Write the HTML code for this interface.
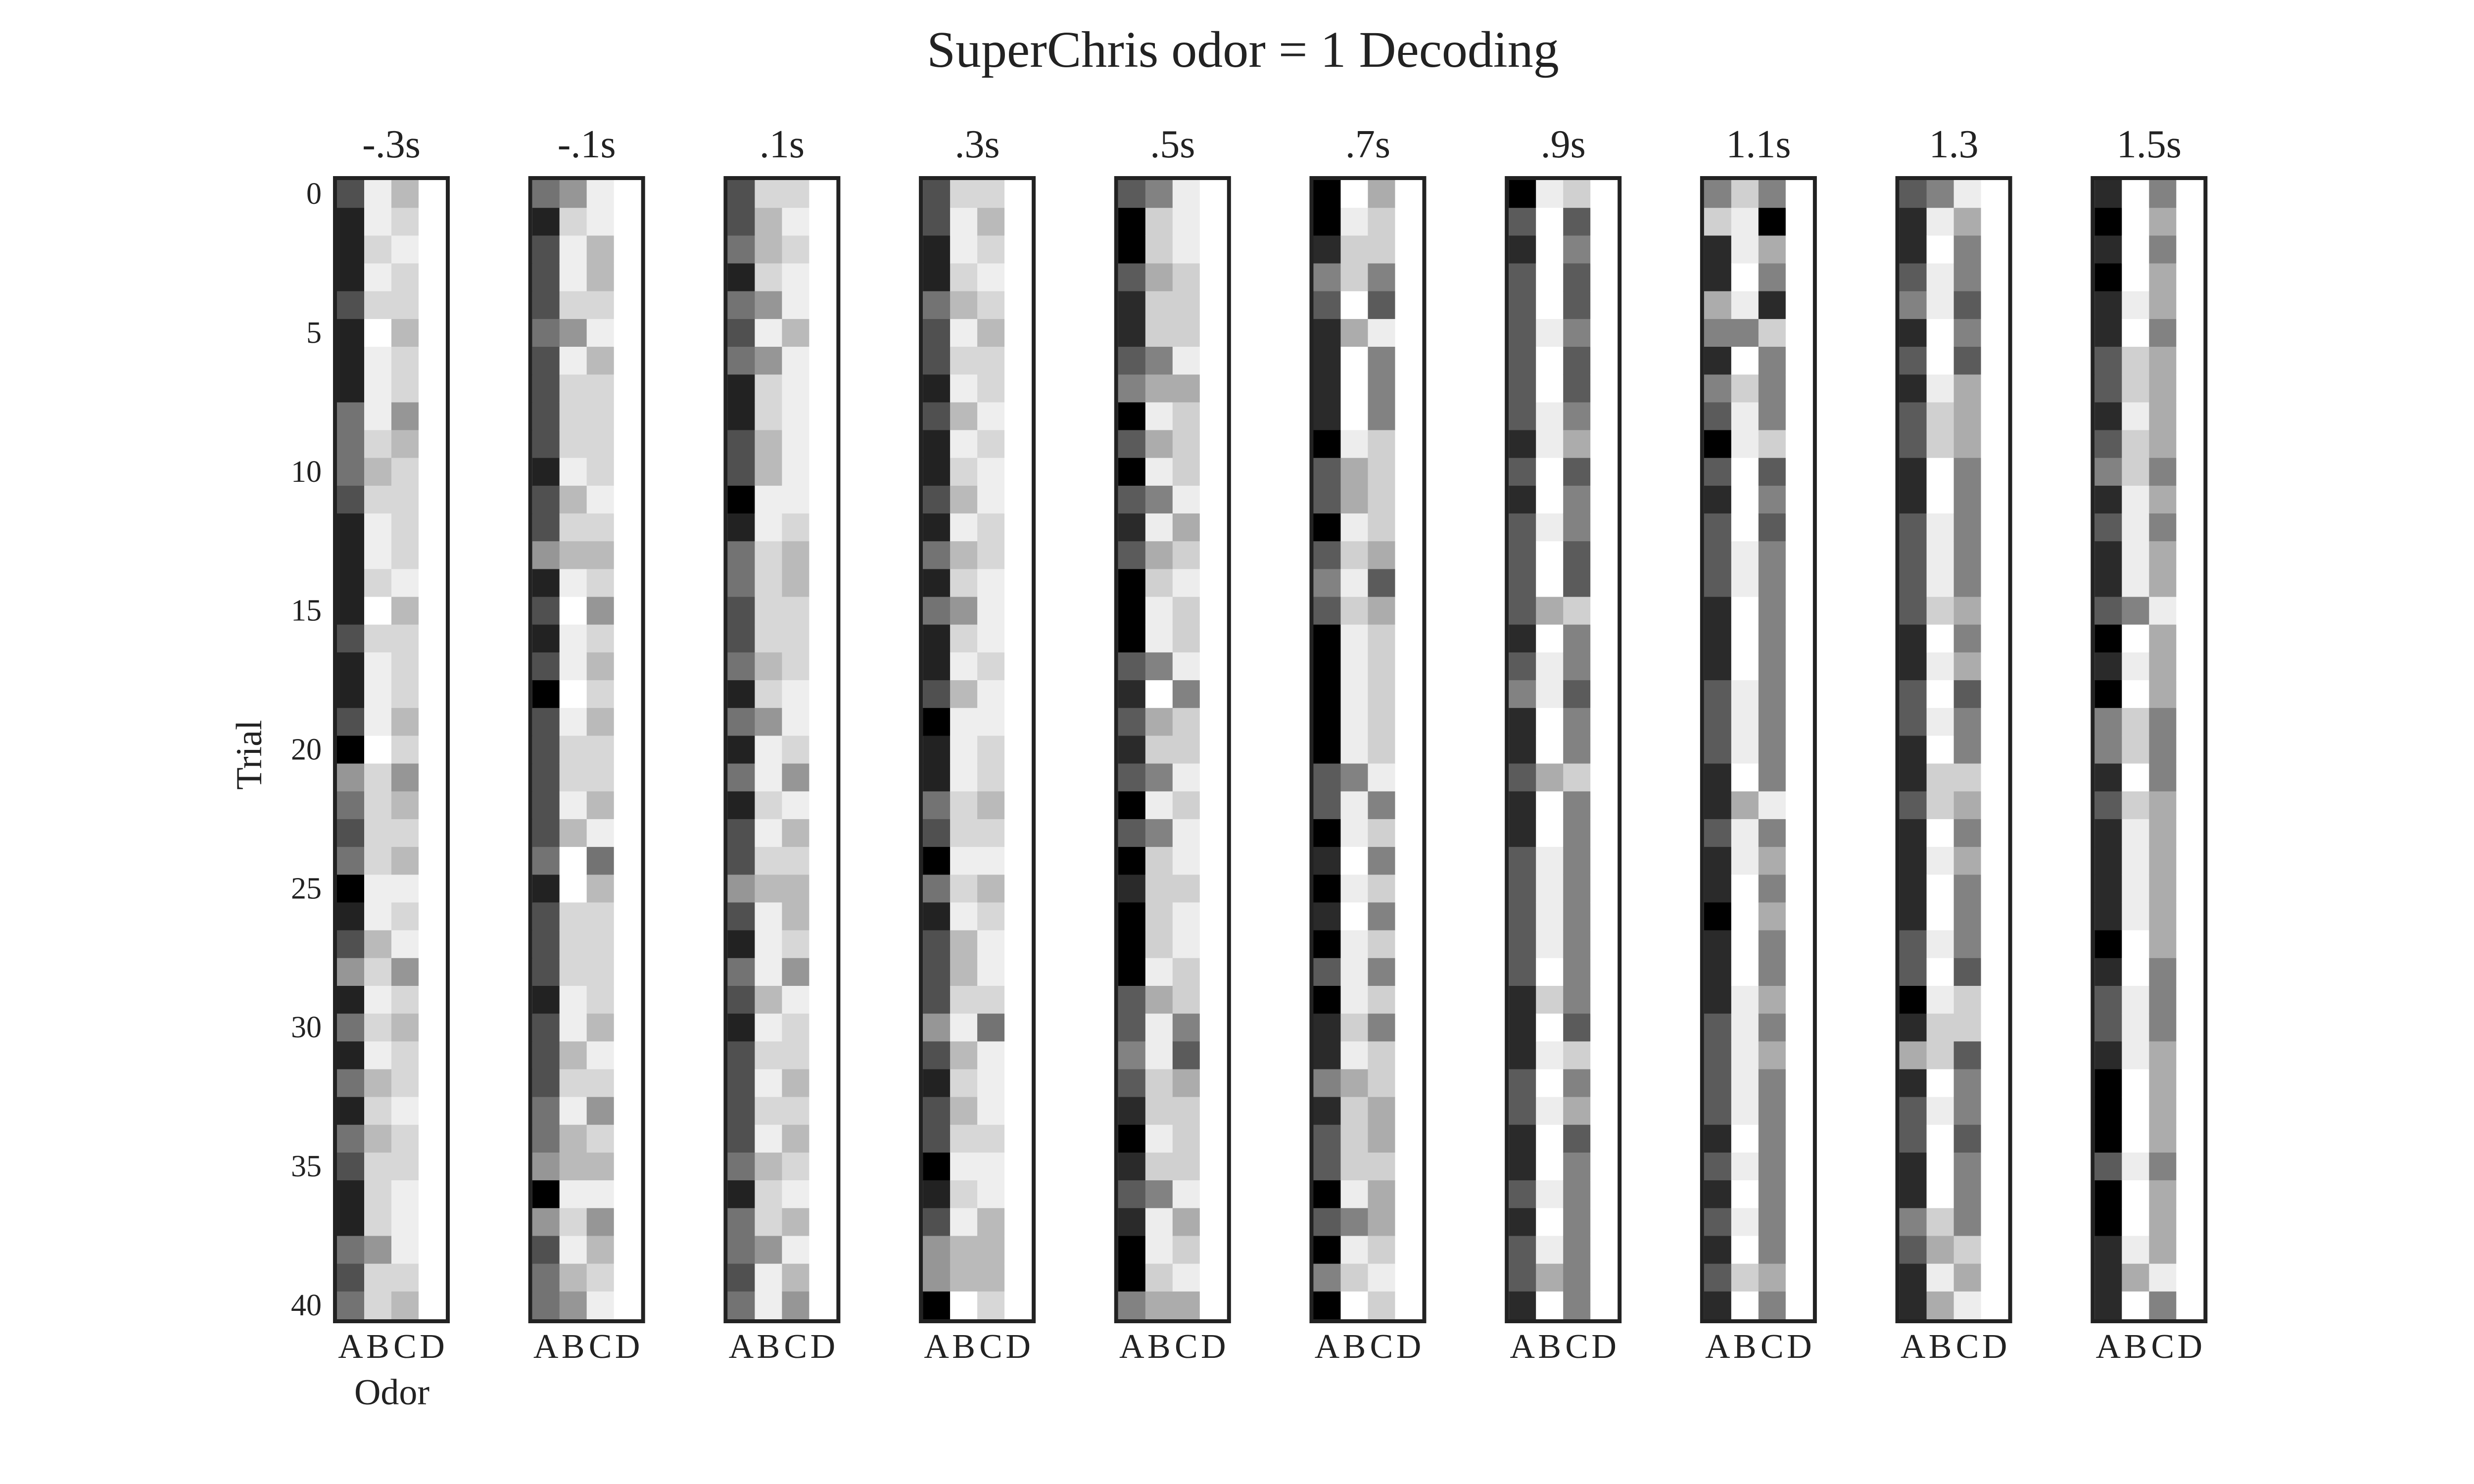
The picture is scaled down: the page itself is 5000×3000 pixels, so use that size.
<!DOCTYPE html>
<html>
<head>
<meta charset="utf-8">
<style>
  html,body{margin:0;padding:0;background:#fff;}
  svg{display:block;}
  text{font-family:"Liberation Serif","DejaVu Serif",serif;fill:#222;}
</style>
</head>
<body>
<svg id="chart" width="5000" height="3000" viewBox="0 0 5000 3000" xmlns="http://www.w3.org/2000/svg">
  <rect x="0" y="0" width="5000" height="3000" fill="#fff"/>
  <text x="2512" y="135" font-size="104" text-anchor="middle">SuperChris odor = 1 Decoding</text>
  <text x="0" y="0" font-size="74" text-anchor="middle" transform="translate(528,1526) rotate(-90)">Trial</text>
  <text x="792" y="2839" font-size="74" text-anchor="middle">Odor</text>
  <g id="panels"></g>
</svg>
<script>
// ---- data (grey level codes per trial, columns A,B,C,D) ----
const panelTitles = ["-.3s","-.1s",".1s",".3s",".5s",".7s",".9s","1.1s","1.3","1.5s"];
const odors = ["A","B","C","D"];
const yTicks = [0,5,10,15,20,25,30,35,40];
const levelCounts = [9,9,9,9,8,8,8,8,8,8];
const colA = [
"21112111333211112112043230124131313211323",
"31222322221224121202222231222122233404233",
"22313231122013322313131224213212222313323",
"22113221211213131120113203122242122012440",
"20021123020212000212120201000223210121003",
"00132111102202320000022010102011312202030",
"02122222212122221231121122222111221121221",
"35114313202122211122211211011122221212121",
"21123121221122221122112111122014122113211",
"10101122123121120103312111101221000200111"
];
const colB = [
"77676877765677686777866667756767565666466",
"46776476667565787787667588666775675576754",
"65564746655776666564776765777576767566477",
"67765767576575646757776676755675656767558",
"35545534646364566374536355556466556536654",
"76557477764465656666636676766656455563657",
"67777677667767747667747766667576767767647",
"56676375667776677766674667777666667676757",
"36766776557766657676755767767655767775464",
"77776755655666637675575666677666777677647"
];
const colC = [
"56766566456666756665645657674656676677765",
"77556756666765646565665735666657646574567",
"67677577777765566677647565564766565675754",
"65676566767766777677665675677637776775556",
"66655564555645655635565665665532455564564",
"45532633355554245555563535353535544544565",
"52322322342332253323353333333325342333333",
"30431533352323333333336343433434333333343",
"64332324443333343423354343332552332333546",
"34344344443434464443334444443334444344463"
];
const colD = [
"88888888888888888888888888888888888888888",
"88888888888888888888888888888888888888888",
"88888888888888888888888888888888888888888",
"88888888888888888888888888888888888888888",
"77777777777777777777777777777777777777777",
"77777777777777777777777777777777777777777",
"77777777777777777777777777777777777777777",
"77777777777777777777777777777777777777777",
"77777777777777777777777777777777777777777",
"77777777777777777777777777777777777777777"
];
const nTrials = 41;

// ---- scales / layout ----
const pal9 = ['#000000','#222222','#505050','#737373','#969696','#bababa','#d7d7d7','#eeeeee','#ffffff'];
const pal8 = ['#000000','#2a2a2a','#5b5b5b','#828282','#acacac','#d0d0d0','#ededed','#ffffff'];
const panelLeft0 = 673, panelStep = 394.7, frame = 8, cellW = 55;
const dataTop = 364, dataBottom = 2667;
const rowH = (dataBottom - dataTop) / nTrials;
function xPanel(p){ return panelLeft0 + p * panelStep; }
function xCell(p, c){ return xPanel(p) + frame + c * cellW; }
function yRow(r){ return dataTop + r * rowH; }
function color(p, level){ return (levelCounts[p] === 9 ? pal9 : pal8)[level]; }

const NS = "http://www.w3.org/2000/svg";
const root = document.getElementById('panels');
function mk(tag, attrs){ const e = document.createElementNS(NS, tag); for (const k in attrs) e.setAttribute(k, attrs[k]); return e; }

// y tick labels
yTicks.forEach(t => {
  const tx = mk('text', {x: 650, y: (yRow(t) + rowH/2 + 20).toFixed(1), 'font-size': 62, 'text-anchor': 'end'});
  tx.textContent = t;
  
  
  root.appendChild(tx);
});

for (let p = 0; p < panelTitles.length; p++) {
  const g = mk('g', {});
  
  
  const cols = [colA[p], colB[p], colC[p], colD[p]];
  for (let c = 0; c < 4; c++) {
    for (let r = 0; r < nTrials; r++) {
      const lv = parseInt(cols[c][r], 10);
      const rc = mk('rect', {x: xCell(p,c).toFixed(1), y: yRow(r).toFixed(1), width: cellW + 0.6, height: (rowH + 0.6).toFixed(1), fill: color(p, lv)});
      
      
      g.appendChild(rc);
    }
  }
  const fr = mk('rect', {x: (xPanel(p) + frame/2).toFixed(1), y: dataTop - frame/2, width: 4*cellW + frame, height: (dataBottom - dataTop + frame).toFixed(1), fill: 'none', stroke: '#222', 'stroke-width': frame});
  
  
  g.appendChild(fr);
  const tt = mk('text', {x: (xPanel(p) + frame + 2*cellW).toFixed(1), y: 318, 'font-size': 80, 'text-anchor': 'middle'});
  tt.textContent = panelTitles[p];
  
  
  g.appendChild(tt);
  odors.forEach((o, c) => {
    const lx = mk('text', {x: (xCell(p,c) + cellW/2).toFixed(1), y: 2745, 'font-size': 70, 'text-anchor': 'middle'});
    lx.textContent = o;
    
    
    g.appendChild(lx);
  });
  root.appendChild(g);
}
</script>
</body>
</html>
